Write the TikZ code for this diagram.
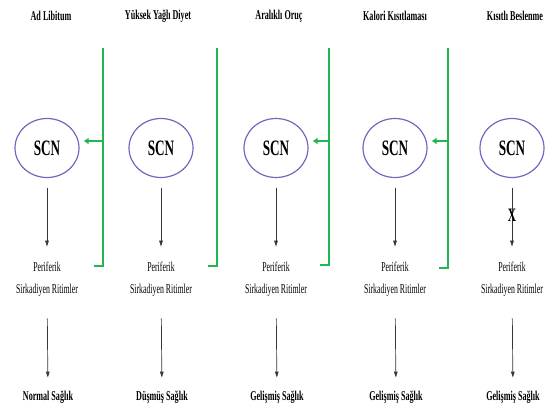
\documentclass[tikz,border=0pt]{standalone}
\usepackage{fontspec}
\setmainfont{Liberation Serif}
\newfontfamily\narrowfont[FakeStretch=0.6]{Liberation Serif}
\newfontfamily\perifont[FakeStretch=0.58]{Liberation Serif}
\usepackage{tikz}
\usetikzlibrary{calc,arrows.meta,shapes.geometric}

\definecolor{scnblue}{RGB}{112,104,190}
\definecolor{signalgreen}{RGB}{34,182,80}
\definecolor{arrowgray}{RGB}{55,55,55}

\tikzset{
  title/.style={font=\narrowfont\bfseries\fontsize{13.5}{15}\selectfont,inner sep=0pt},
  scn/.style={ellipse,draw=scnblue,line width=1.2pt,minimum width=64pt,minimum height=59pt,
    inner sep=0pt,font=\narrowfont\bfseries\fontsize{22}{24}\selectfont},
  peri/.style={align=center,inner sep=0pt,font=\perifont\fontsize{13.5}{22}\selectfont},
  result/.style={font=\narrowfont\bfseries\fontsize{13.5}{15}\selectfont,inner sep=0pt},
  flow/.style={draw=arrowgray,line width=0.7pt,-{Triangle[length=6pt,width=3.6pt]}},
  signal/.style={draw=signalgreen,line width=2pt},
  signalarrow/.style={signal,-{Latex[length=5pt,width=7pt]},shorten >=4pt},
  xmark/.style={font=\narrowfont\bfseries\fontsize{19}{20}\selectfont,inner sep=0pt}
}

\begin{document}
\begin{tikzpicture}[x=1pt,y=-1pt]
  \useasboundingbox (0,0) rectangle (554,412);
  % five feeding regimes, one column each
  \foreach \i/\x/\tx/\t/\r in {
      1/47/51/{Ad Libitum}/{Normal Sağlık},
      2/161/158/{Yüksek Yağlı Diyet}/{Düşmüş Sağlık},
      3/276/279/{Aralıklı Oruç}/{Gelişmiş Sağlık},
      4/395/395/{Kalori Kısıtlaması}/{Gelişmiş Sağlık},
      5/512/515/{Kısıtlı Beslenme}/{Gelişmiş Sağlık}} {
    \node[title] (title\i) at (\tx,16) {\t};
    \node[scn] (scn\i) at (\x,148) {SCN};
    \node[peri] (peri\i) at (\x,279) {Periferik\\Sirkadiyen Ritimler};
    \node[result] (res\i) at (\x+1,397) {\r};
    \draw[flow,shorten <=10pt,shorten >=15pt] (scn\i) -- (peri\i);
    \draw[flow,shorten <=22pt,shorten >=13pt] (peri\i) -- (res\i);
  }
  % blocked link in the last column
  \node[xmark] (block5) at (512,215) {X};
  % green signal lines with a small hook at the foot
  \foreach \g/\gx/\gy in {1/103/266,2/217/266,3/329/265,4/448/268} {
    \coordinate (gtop\g) at (\gx,48);
    \coordinate (gbot\g) at (\gx,\gy);
    \draw[signal] (gtop\g) -- (gbot\g) -- ++(-9,0);
  }
  % entrainment of the SCN
  \foreach \g/\n in {1/1,3/3,4/4} {
    \coordinate (gmid\g) at ($(gtop\g)+(0,93)$);
    \draw[signalarrow] (gmid\g) -- (scn\n.east |- gmid\g);
  }
\end{tikzpicture}
\end{document}
